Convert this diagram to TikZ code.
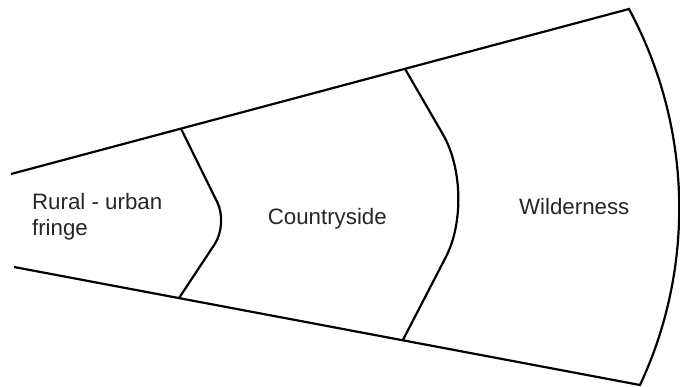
\documentclass[tikz,border=0pt]{standalone}
\usepackage{fontspec}
\setmainfont{Liberation Sans}
\usetikzlibrary{calc}
\begin{document}
\begin{tikzpicture}[x=1pt,y=-1pt,line width=2.2pt,
  zone/.style={font=\fontsize{22.3}{26.7}\selectfont,text=black!85,inner sep=0pt,anchor=base west,align=left}]
\useasboundingbox (0,0) rectangle (680,387);
\coordinate (tl) at (11,174);
\coordinate (tr) at (629,9);
\coordinate (br) at (640,385);
\coordinate (bl) at (14,267);
\coordinate (t1) at ($(tl)!0.275!(tr)$);
\coordinate (t2) at ($(tl)!0.6375!(tr)$);
\coordinate (b1) at ($(bl)!0.2636!(br)$);
\coordinate (b2) at ($(bl)!0.621!(br)$);
\draw (tl) -- (tr) .. controls (694,130) and (694,270) .. (br) -- (bl);
\draw[rounded corners=24] (t1) -- (228,224) -- (b1);
\draw[rounded corners=70] (t2) -- (478,195) -- (b2);
\node[zone] (fringe) at (31,236) {Rural - urban\\fringe};
\node[zone] (country) at (266.7,224.3) {Countryside};
\node[zone] (wild) at (518,214.3) {Wilderness};
\end{tikzpicture}
\end{document}
